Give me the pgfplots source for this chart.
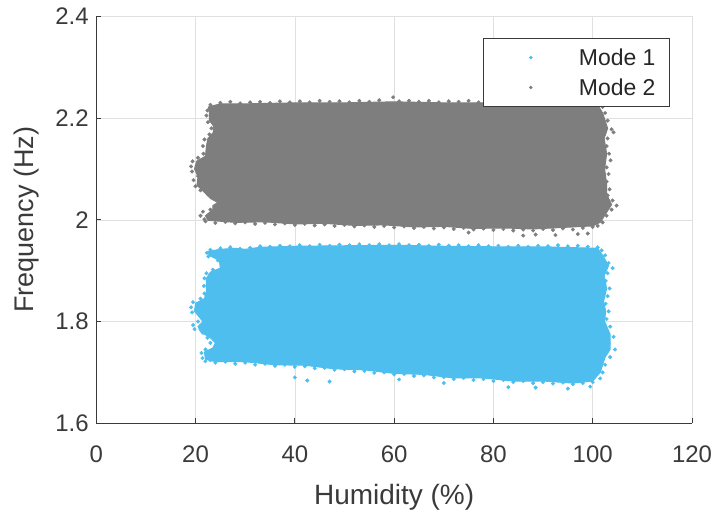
\documentclass[border=0pt]{standalone}
\usepackage{pgfplots}
\pgfplotsset{compat=1.18}
\usepackage{fontspec}
\setmainfont{Liberation Sans}
\definecolor{modeblue}{RGB}{77,190,238}
\definecolor{modegray}{RGB}{126,126,126}
\definecolor{axcol}{RGB}{58,58,58}
\begin{document}
\begin{tikzpicture}
\begin{axis}[
  scale only axis, width=594.5bp, height=406bp,
  xmin=0, xmax=120, ymin=1.6, ymax=2.4,
  xtick={0,20,...,120}, ytick={1.6,1.8,2,2.2,2.4},
  /pgf/number format/assume math mode=true,
  ticklabel style={font=\fontsize{24}{28}\selectfont, color=axcol},
  xticklabel style={yshift=-19bp, inner xsep=3bp},
  yticklabel style={xshift=-4bp, inner ysep=8bp},
  xlabel={Humidity (\%)}, ylabel={Frequency (Hz)},
  xlabel style={font=\fontsize{28}{32}\selectfont, color=axcol,
    at={(rel axis cs:0.5,0)}, anchor=north, yshift=-54.3bp, inner ysep=6bp},
  ylabel style={font=\fontsize{27}{32}\selectfont, color=axcol,
    at={(rel axis cs:0,0.5)}, anchor=center, yshift=69.5bp, inner ysep=14bp},
  grid=major, grid style={color=black!12, line width=0.6pt},
  axis x line*=bottom, axis y line*=left,
  axis line style={-, color=axcol, line width=1pt},
  major tick style={color=axcol, line width=1pt},
  major tick length=5bp, tick align=inside,
  legend cell align=left,
  legend style={at={(rel axis cs:0.963,0.946)}, anchor=north east,
    draw=axcol, line width=0.8pt, fill=white,
    font=\fontsize{23}{27}\selectfont, text=black!85,
    inner xsep=12bp, inner ysep=7.8bp, row sep=7.7bp},
]
% Mode 2 cloud (grey)
\addplot[fill=modegray, draw=modegray, line width=1pt, forget plot] coordinates {
(22.6,2.222) (25,2.228) (30,2.228) (40,2.230) (50,2.230) (60,2.232) (70,2.230)
(80,2.230) (90,2.230) (101,2.226) (102,2.21) (103,2.18) (102.3,2.16) (102.8,2.13)
(102.4,2.10) (102.8,2.07) (102.8,2.05) (103.8,2.03) (102.5,2.01) (101.5,1.995)
(100,1.988) (94,1.985) (88,1.982) (82,1.984) (76,1.983) (70,1.987) (64,1.986)
(58,1.990) (52,1.989) (46,1.993) (40,1.992) (34,1.996) (28,1.995) (22.5,1.999)
(22,2.008) (23.5,2.02) (23.5,2.028) (24.5,2.034) (23,2.042) (21.5,2.057)
(20.3,2.068) (20.5,2.085) (19.8,2.10) (20.2,2.115) (22,2.125) (22.2,2.145)
(22.5,2.16) (23.6,2.172) (23.6,2.185) (22.8,2.195) (22.8,2.21) (22.6,2.222)};
\addplot[only marks, mark=*, mark size=1.8pt, color=modegray, forget plot] coordinates {
(23,2.226) (25,2.230) (27,2.232) (29,2.229) (31,2.231) (33,2.232) (35,2.230)
(37,2.233) (39,2.231) (41,2.233) (43,2.231) (45,2.234) (47,2.232) (49,2.233)
(51,2.231) (53,2.234) (55,2.232) (57,2.235) (59.8,2.241) (61,2.233) (63,2.234)
(65,2.232) (67,2.234) (69,2.231) (71,2.233) (73,2.232) (75,2.234) (77,2.231)
(79,2.233) (81,2.232) (83,2.234) (85,2.231) (87,2.233) (89,2.232) (91,2.233)
(93,2.231) (95,2.232) (97,2.230) (99,2.231) (101,2.228)
(22,1.997) (24,1.994) (26,1.996) (28,1.993) (30,1.995) (32,1.992) (34,1.994)
(36,1.991) (38,1.993) (40,1.990) (42,1.992) (44,1.989) (46,1.991) (48,1.988)
(50,1.990) (52,1.987) (54,1.989) (56,1.986) (58,1.988) (60,1.985) (62,1.987)
(64,1.984) (66,1.986) (68,1.983) (70,1.985) (72,1.982) (74,1.984) (76,1.981)
(78,1.983) (80,1.980) (82,1.982) (84,1.979) (86,1.981) (88,1.979) (90,1.982)
(92,1.980) (94,1.983) (96,1.981) (98,1.984) (100,1.986)
(86,1.969) (88.5,1.971) (92.5,1.970) (97,1.972) (99,1.973) (75,1.975)
(102,2.222) (102.5,2.21) (103,2.195) (103.8,2.178) (104.2,2.172) (103,2.16)
(102.8,2.145) (103.3,2.13) (103.6,2.117) (102.8,2.103) (103.2,2.09) (102.8,2.075)
(103.4,2.06) (103,2.048) (104,2.038) (104.8,2.028) (103.8,2.02) (102.8,2.008)
(102,1.995) (101,1.988)
(21.8,2.001) (21,2.008) (21.5,2.016) (23,2.02) (24.5,2.024) (24,2.044) (22.5,2.05)
(21,2.058) (20,2.066) (19.6,2.078) (20.5,2.086) (19.3,2.095) (19.1,2.105)
(19.4,2.115) (20.5,2.122) (21.6,2.13) (21.5,2.145) (21.8,2.158) (22.8,2.168)
(23.2,2.18) (22.5,2.192) (22.2,2.205) (22.4,2.215)};
% Mode 1 cloud (blue)
\addplot[fill=modeblue, draw=modeblue, line width=1pt, forget plot] coordinates {
(22.5,1.938) (25,1.942) (28,1.944) (30,1.942) (33,1.946) (40,1.948) (50,1.949)
(60,1.950) (70,1.948) (80,1.947) (90,1.947) (101,1.944) (102,1.93) (103.2,1.91)
(102.3,1.89) (102.8,1.865) (102.2,1.84) (102.6,1.82) (102.4,1.80) (103.5,1.775)
(103.5,1.745) (102.5,1.73) (101.5,1.70) (100,1.683) (96,1.679) (90,1.683)
(84,1.683) (78,1.689) (72,1.689) (66,1.696) (60,1.698) (54,1.705) (48,1.707)
(42,1.714) (36,1.715) (30,1.721) (24,1.721) (22,1.726) (21.8,1.74) (23.5,1.748)
(24,1.758) (23,1.768) (21,1.78) (20.5,1.79) (21.5,1.80) (20.5,1.812) (19.8,1.82)
(20,1.836) (21.8,1.845) (22.2,1.86) (22.2,1.885) (23,1.897) (25,1.905)
(24.8,1.92) (22.8,1.93) (22.5,1.938)};
\addplot[only marks, mark=*, mark size=1.8pt, color=modeblue, forget plot] coordinates {
(23,1.941) (25,1.944) (27,1.946) (29,1.943) (31,1.945) (33,1.948) (35,1.947)
(37,1.949) (39,1.948) (41,1.950) (43,1.948) (45,1.951) (47,1.949) (49,1.951)
(51,1.950) (53,1.952) (55,1.950) (57,1.952) (59,1.950) (61,1.952) (63,1.950)
(65,1.951) (67,1.949) (69,1.951) (71,1.949) (73,1.950) (75,1.948) (77,1.950)
(79,1.948) (81,1.949) (83,1.947) (85,1.949) (87,1.947) (89,1.949) (91,1.948)
(93,1.950) (95,1.948) (97,1.949) (99,1.947) (101,1.946)
(22,1.722) (24,1.719) (26,1.721) (28,1.717) (30,1.719) (32,1.715) (34,1.717)
(36,1.713) (38,1.715) (40,1.711) (42,1.712) (44,1.708) (46,1.709) (48,1.705)
(50,1.706) (52,1.702) (54,1.703) (56,1.699) (58,1.700) (60,1.696) (62,1.697)
(64,1.693) (66,1.694) (68,1.690) (70,1.691) (72,1.687) (74,1.689) (76,1.685)
(78,1.687) (80,1.683) (82,1.685) (84,1.681) (86,1.683) (88,1.679) (90,1.681)
(92,1.678) (94,1.680) (96,1.677) (98,1.679) (100,1.681)
(42.5,1.684) (47,1.682) (40,1.69) (83,1.671) (88.5,1.670) (95,1.668)
(99.5,1.672) (70,1.679) (61,1.686)
(101.8,1.94) (102.5,1.93) (103.2,1.915) (104,1.905) (103,1.895) (102.6,1.88)
(103.4,1.865) (103,1.85) (102.6,1.835) (103.2,1.82) (102.8,1.805) (103.5,1.79)
(104.2,1.77) (103.2,1.757) (104.5,1.745) (103.5,1.73) (102.5,1.715) (102,1.70)
(101.5,1.688)
(22.3,1.935) (22.6,1.928) (24.5,1.92) (25.3,1.91) (23.5,1.902) (22.2,1.895)
(21.8,1.885) (21.7,1.87) (21.8,1.855) (21,1.845) (19.5,1.838) (19.1,1.828)
(19.3,1.818) (21,1.812) (20.5,1.80) (19.5,1.793) (19.8,1.785) (21.5,1.778)
(22.4,1.768) (23,1.758) (22,1.745) (21.2,1.738) (21.4,1.728) (23,1.724)};
\addlegendimage{only marks, mark=*, mark size=1.3pt, color=modeblue,
  legend image code/.code={\path[draw=none, fill=none] (0bp,-4bp) rectangle (81bp,4bp);
    \draw plot coordinates {(35bp,0bp)};}}
\addlegendentry{Mode 1}
\addlegendimage{only marks, mark=*, mark size=1.3pt, color=modegray,
  legend image code/.code={\path[draw=none, fill=none] (0bp,-4bp) rectangle (81bp,4bp);
    \draw plot coordinates {(35bp,0bp)};}}
\addlegendentry{Mode 2}
\end{axis}
\end{tikzpicture}
\end{document}
